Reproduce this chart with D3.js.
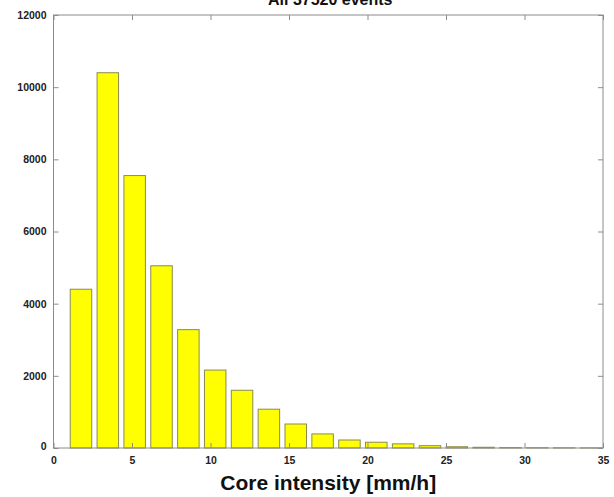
<!DOCTYPE html>
<html><head><meta charset="utf-8">
<script src="https://cdn.jsdelivr.net/npm/d3@7"></script>
<style>body{margin:0;background:#fff}svg{display:block}</style>
</head><body>
<script>
const binCenters = [1.75,3.46,5.17,6.88,8.59,10.3,12.01,13.72,15.43,17.14,18.85,20.56,22.27,23.98,25.69,27.4,29.11,30.82,32.53,34.24];
const counts = [4400,10400,7550,5050,3280,2160,1600,1075,665,390,222,160,115,64,35,20,12,8,5,3];
const xTicks = [0,5,10,15,20,25,30,35];
const yTicks = [0,2000,4000,6000,8000,10000,12000];
const title = "All 37520 events";
const xLabel = "Core intensity [mm/h]";
const binWidth = 1.711;

const W=614,H=497;
const m={l:53.5,r:11,t:15,b:49};
const svg=d3.select("body").append("svg").attr("width",W).attr("height",H);
const x=d3.scaleLinear().domain([0,35]).range([m.l,W-m.r]);
const y=d3.scaleLinear().domain([0,12000]).range([H-m.b,m.t]);

svg.append("g").selectAll("rect").data(binCenters).join("rect")
  .attr("x",(d)=>x(d-binWidth*0.4))
  .attr("width",(d)=>x(d+binWidth*0.4)-x(d-binWidth*0.4))
  .attr("y",(d,i)=>y(counts[i]))
  .attr("height",(d,i)=>y(0)-y(counts[i]))
  .attr("fill","#ffff00").attr("stroke","#8a8a55").attr("stroke-width",1);

const axColor="#8c8c8c";
const fontF="Liberation Sans, Arial, sans-serif";
svg.append("rect").attr("x",x(0)).attr("y",y(12000)).attr("width",x(35)-x(0)).attr("height",y(0)-y(12000))
  .attr("fill","none").attr("stroke",axColor).attr("stroke-width",1);

const xb=svg.append("g").attr("transform",`translate(0,${y(0)})`)
  .call(d3.axisBottom(x).tickValues(xTicks).tickSize(-5).tickPadding(9).tickFormat(d3.format("d")));
const xt=svg.append("g").attr("transform",`translate(0,${y(12000)})`)
  .call(d3.axisTop(x).tickValues(xTicks).tickSize(-5).tickFormat(""));
const yl=svg.append("g").attr("transform",`translate(${x(0)},0)`)
  .call(d3.axisLeft(y).tickValues(yTicks).tickSize(-5).tickPadding(7).tickFormat(d3.format("d")));
const yr=svg.append("g").attr("transform",`translate(${x(35)},0)`)
  .call(d3.axisRight(y).tickValues(yTicks).tickSize(-5).tickFormat(""));
[xb,xt,yl,yr].forEach(g=>{
  g.select(".domain").remove();
  g.selectAll("line").attr("stroke",axColor);
  g.selectAll("text").attr("fill","#222").attr("font-family",fontF).attr("font-weight","bold").attr("font-size",10.5);
});
yl.selectAll("text").filter(d=>d===0).attr("dy","0.1em");

svg.append("text").attr("x",(x(0)+x(35))/2+2).attr("y",5).attr("text-anchor","middle")
  .attr("font-family",fontF).attr("font-weight","bold").attr("font-size",16).attr("fill","#111").text(title);
svg.append("text").attr("x",(x(0)+x(35))/2).attr("y",490).attr("text-anchor","middle")
  .attr("font-family",fontF).attr("font-weight","bold").attr("font-size",21).attr("fill","#111").text(xLabel);
</script>
</body></html>
